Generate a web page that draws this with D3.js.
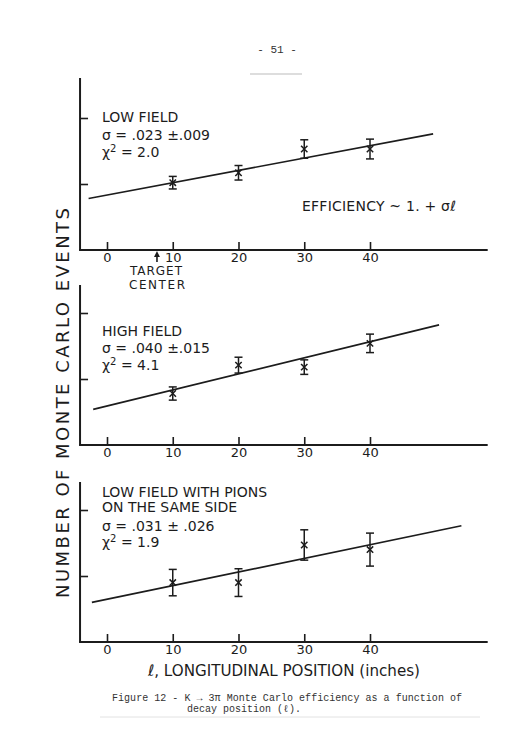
<!DOCTYPE html>
<html>
<head>
<meta charset="utf-8">
<script src="https://cdn.jsdelivr.net/npm/d3@7"></script>
<style>
  body { margin: 0; background: #fff; }
  svg { display: block; }
  .lab { font-family: "DejaVu Sans", Verdana, sans-serif; fill: #1c1c1c; }
</style>
</head>
<body>
<div id="chart"></div>
<script>
// decay position of the Monte Carlo points (inches)
const positions = [10, 20, 30, 40];
const xTickValues = [0, 10, 20, 30, 40];
const yTickValues = [1, 2];

// arbitrary event units (axis has no numbers)
const lowField = [1.02, 1.17, 1.53, 1.53];
const lowFieldErr = [0.095, 0.11, 0.14, 0.15];
const lowFieldFit = [[-2.8, 0.78], [49.6, 1.76]];

const highField = [0.78, 1.21, 1.18, 1.54];
const highFieldErr = [0.10, 0.12, 0.11, 0.14];
const highFieldFit = [[-2.1, 0.54], [50.5, 1.82]];

const pionSide = [0.90, 0.90, 1.47, 1.40];
const pionSideErr = [0.20, 0.21, 0.23, 0.25];
const pionSideFit = [[-2.3, 0.60], [53.9, 1.76]];

const targetCenter = 7.6;

const width = 528, height = 729;
const ink = "#1c1c1c";

let svg = d3.select("#chart")
    .append("svg")
    .attr("width", width)
    .attr("height", height);

// same x scale for all three panels
var x = d3.scaleLinear().domain([0, 40]).range([107, 370]);
const xStart = -4.1, xEnd = 57.9;

const panels = [
    {axisY: 250, topY: 78, vals: lowField, errs: lowFieldErr, fit: lowFieldFit,
     text: [["LOW FIELD", 122], ["σ  = .023 ±.009", 140], ["χ2 = 2.0", 157]]},
    {axisY: 445, topY: 285, vals: highField, errs: highFieldErr, fit: highFieldFit,
     text: [["HIGH FIELD", 336], ["σ  = .040 ±.015", 353], ["χ2 = 4.1", 370]]},
    {axisY: 642, topY: 482, vals: pionSide, errs: pionSideErr, fit: pionSideFit,
     text: [["LOW FIELD WITH PIONS", 497], ["ON THE SAME SIDE", 512], ["σ  = .031 ± .026", 531], ["χ2 = 1.9", 547]]}
];

panels.forEach(function(p) {
    let g = svg.append("g");
    let unit = 66;
    let y = d3.scaleLinear()
        .domain([0, (p.axisY - p.topY) / unit])
        .range([p.axisY, p.topY]);

    // axis lines
    g.append("line")
        .attr("x1", x(xStart)).attr("x2", x(xStart))
        .attr("y1", y(y.domain()[1])).attr("y2", y(0))
        .attr("stroke", ink).attr("stroke-width", 2);
    g.append("line")
        .attr("x1", x(xStart) - 1).attr("x2", x(xEnd))
        .attr("y1", y(0)).attr("y2", y(0))
        .attr("stroke", ink).attr("stroke-width", 2);

    // x ticks point up into the plot
    let xa = g.append("g")
        .attr("transform", `translate(0,${p.axisY})`)
        .call(d3.axisBottom(x).tickValues(xTickValues).tickSize(-8).tickSizeOuter(0).tickPadding(3));
    xa.select(".domain").remove();
    xa.selectAll(".tick line").attr("stroke", ink).attr("stroke-width", 1.6);
    xa.selectAll(".tick text")
        .attr("class", "lab")
        .attr("font-size", 13)
        .attr("fill", ink);

    // y ticks, no labels
    let ya = g.append("g")
        .attr("transform", `translate(${x(xStart)},0)`)
        .call(d3.axisLeft(y).tickValues(yTickValues).tickSize(-8).tickSizeOuter(0).tickFormat(""));
    ya.select(".domain").remove();
    ya.selectAll(".tick line").attr("stroke", ink).attr("stroke-width", 1.6);

    // fitted line
    g.append("path")
        .datum(p.fit)
        .attr("d", d3.line().x(d => x(d[0])).y(d => y(d[1])))
        .attr("fill", "none")
        .attr("stroke", ink)
        .attr("stroke-width", 1.6);

    // error bars with caps
    let pts = g.selectAll(".pt")
        .data(positions.map((l, i) => ({l: l, v: p.vals[i], e: p.errs[i]})))
        .enter().append("g")
        .attr("class", "pt");
    pts.append("line")
        .attr("x1", d => x(d.l)).attr("x2", d => x(d.l))
        .attr("y1", d => y(d.v - d.e)).attr("y2", d => y(d.v + d.e))
        .attr("stroke", ink).attr("stroke-width", 1.5);
    [-1, 1].forEach(function(s) {
        pts.append("line")
            .attr("x1", d => x(d.l) - 4).attr("x2", d => x(d.l) + 4)
            .attr("y1", d => y(d.v + s * d.e)).attr("y2", d => y(d.v + s * d.e))
            .attr("stroke", ink).attr("stroke-width", 1.5);
    });
    // x markers
    pts.append("path")
        .attr("d", d => {
            let cx = x(d.l), cy = y(d.v), r = 3.2;
            return `M${cx - r},${cy - r}L${cx + r},${cy + r}M${cx - r},${cy + r}L${cx + r},${cy - r}`;
        })
        .attr("stroke", ink).attr("stroke-width", 1.5);

    // annotation text
    p.text.forEach(function(t) {
        let tx = g.append("text")
            .attr("class", "lab")
            .attr("x", 102).attr("y", t[1])
            .attr("font-size", 14);
        if (t[0].startsWith("χ2")) {
            tx.append("tspan").text("χ");
            tx.append("tspan").text("2").attr("font-size", 10).attr("dy", -5);
            tx.append("tspan").text(t[0].slice(2)).attr("dy", 5);
        } else {
            tx.text(t[0]);
        }
    });
});

// efficiency formula in top panel
svg.append("text")
    .attr("class", "lab")
    .attr("x", 302).attr("y", 211)
    .attr("font-size", 14)
    .attr("textLength", 154)
    .attr("lengthAdjust", "spacing")
    .text("EFFICIENCY ~ 1. + σℓ");

// target center arrow
let ax = x(targetCenter);
svg.append("line")
    .attr("x1", ax).attr("x2", ax)
    .attr("y1", 262).attr("y2", 255)
    .attr("stroke", ink).attr("stroke-width", 1.6);
svg.append("path")
    .attr("d", `M${ax - 3},${257}L${ax},${251}L${ax + 3},${257}Z`)
    .attr("fill", ink);
svg.append("text")
    .attr("class", "lab").attr("font-size", 12)
    .attr("text-anchor", "middle")
    .attr("x", 156).attr("y", 275)
    .attr("textLength", 52)
    .text("TARGET");
svg.append("text")
    .attr("class", "lab").attr("font-size", 12)
    .attr("text-anchor", "middle")
    .attr("x", 157).attr("y", 288.5)
    .attr("textLength", 56)
    .text("CENTER");

// y axis title
svg.append("text")
    .attr("class", "lab")
    .attr("transform", "translate(69,403) rotate(-90)")
    .attr("text-anchor", "middle")
    .attr("font-size", 18)
    .attr("textLength", 390)
    .attr("lengthAdjust", "spacing")
    .text("NUMBER OF MONTE CARLO EVENTS");

// x axis title
svg.append("text")
    .attr("class", "lab")
    .attr("x", 148).attr("y", 676)
    .attr("font-size", 16)
    .attr("textLength", 272)
    .attr("lengthAdjust", "spacingAndGlyphs")
    .text("ℓ, LONGITUDINAL POSITION (inches)");

// page number and caption
svg.append("text")
    .attr("x", 277).attr("y", 53)
    .attr("text-anchor", "middle")
    .attr("font-family", "Liberation Mono, monospace")
    .attr("font-size", 11)
    .attr("fill", "#333")
    .text("- 51 -");
svg.append("line")
    .attr("x1", 250).attr("x2", 302)
    .attr("y1", 74).attr("y2", 74)
    .attr("stroke", "#bbb").attr("stroke-width", 1);

svg.append("text")
    .attr("x", 112).attr("y", 701)
    .attr("font-family", "Liberation Mono, monospace")
    .attr("font-size", 10)
    .attr("textLength", 350)
    .attr("fill", "#333")
    .text("Figure 12 - K → 3π Monte Carlo efficiency as a function of");
svg.append("text")
    .attr("x", 187).attr("y", 712)
    .attr("font-family", "Liberation Mono, monospace")
    .attr("font-size", 10)
    .attr("fill", "#333")
    .text("decay position (ℓ).");
svg.append("line")
    .attr("x1", 100).attr("x2", 480)
    .attr("y1", 717).attr("y2", 717)
    .attr("stroke", "#e2e2e2").attr("stroke-width", 1);
</script>
</body>
</html>
